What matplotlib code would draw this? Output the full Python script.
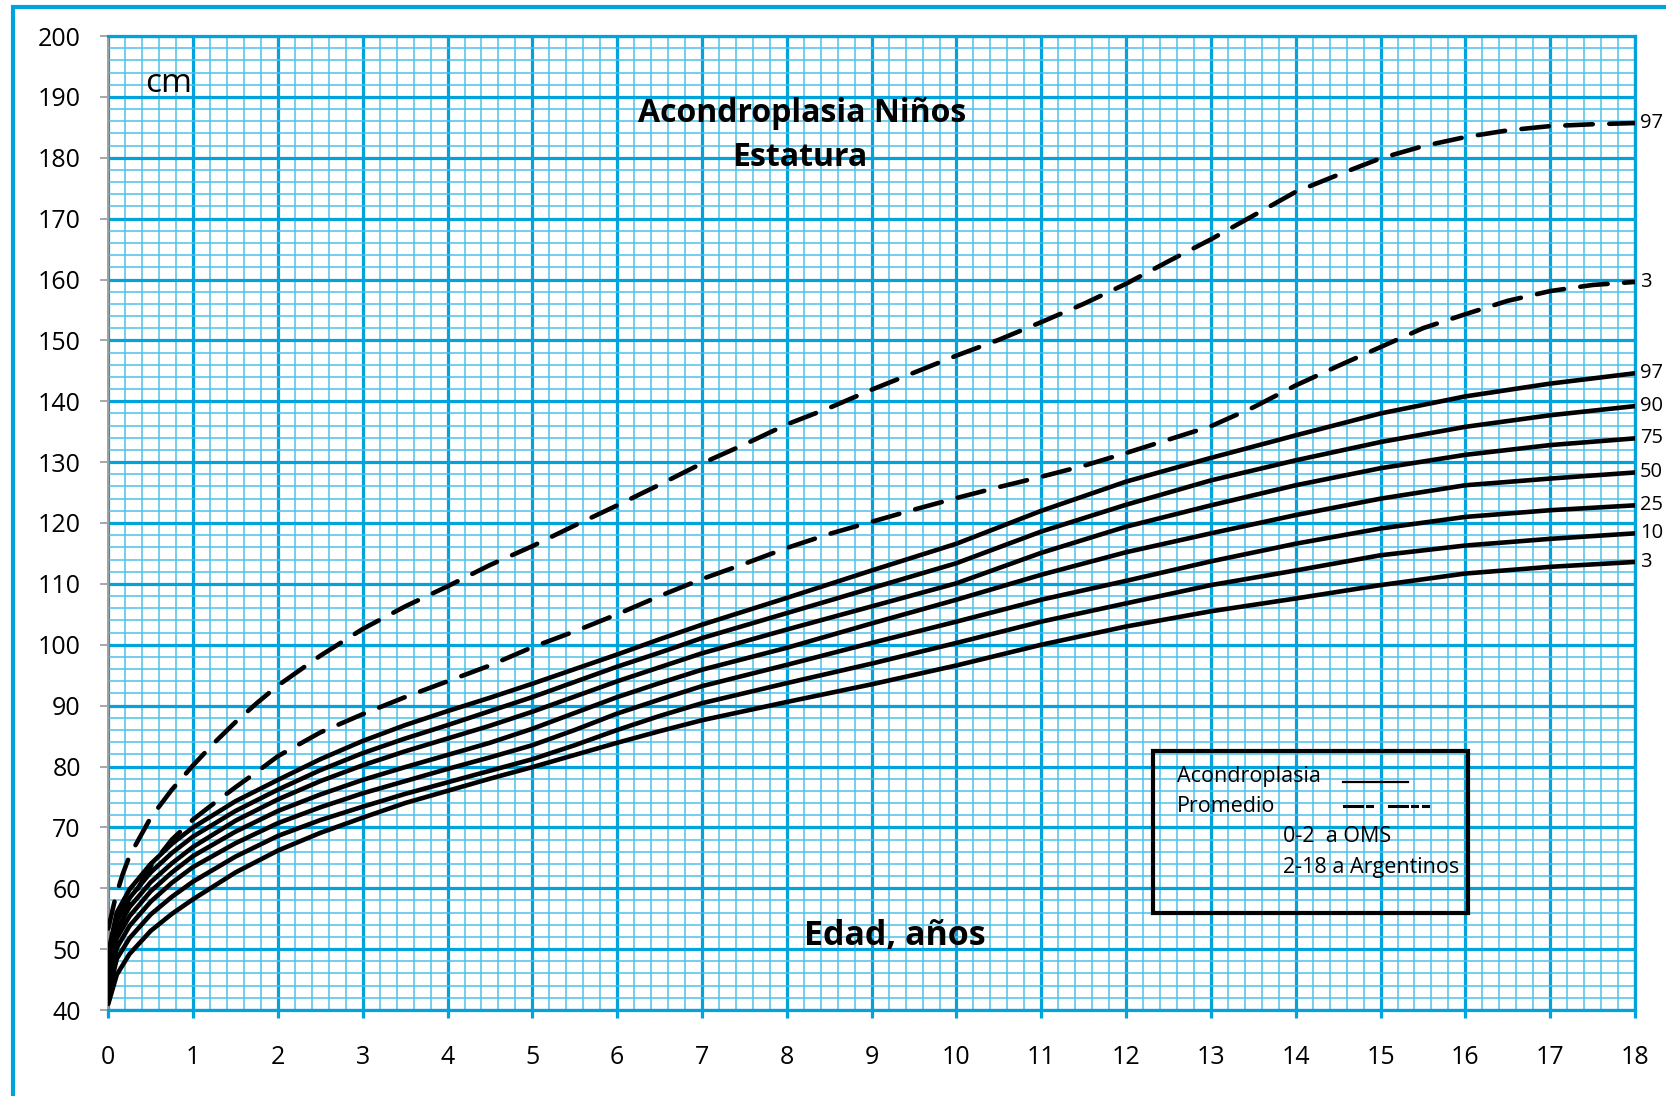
import matplotlib
matplotlib.use("Agg")
import matplotlib.pyplot as plt
from matplotlib.ticker import MultipleLocator
from matplotlib.lines import Line2D
from matplotlib.patches import Rectangle

# ---------------- data ----------------
# Achondroplasia boys, height percentiles (solid curves)
AGES_ACH = [0, 0.1, 0.25, 0.5, 0.75, 1, 1.5, 2, 2.5, 3, 3.5, 4, 4.5, 5, 5.5, 6, 6.5,
            7, 8, 9, 10, 11, 12, 13, 14, 15, 16, 17, 18]
ACH_P3 = [41.0, 45.8, 49.2, 53.0, 55.8, 58.2, 62.6, 66.2, 69.1, 71.6, 74.0, 76.0, 78.0,
          79.9, 81.9, 83.9, 85.8, 87.6, 90.6, 93.5, 96.6, 100.0, 103.0, 105.5, 107.6,
          109.8, 111.7, 112.8, 113.6]
ACH_P10 = [42.5, 48.4, 51.8, 55.7, 58.6, 61.1, 65.2, 68.6, 71.2, 73.4, 75.5, 77.4, 79.3,
           81.2, 83.5, 86.0, 88.3, 90.4, 93.7, 96.9, 100.3, 103.8, 106.8, 109.8, 112.2,
           114.7, 116.3, 117.4, 118.3]
ACH_P25 = [44.0, 50.2, 53.8, 57.8, 60.9, 63.5, 67.4, 70.7, 73.3, 75.6, 77.6, 79.6, 81.5,
           83.5, 86.0, 88.7, 91.0, 93.2, 96.7, 100.3, 103.8, 107.4, 110.5, 113.7, 116.6,
           119.1, 121.0, 122.1, 122.9]
ACH_P50 = [45.5, 51.8, 55.4, 59.5, 62.6, 65.3, 69.3, 72.7, 75.4, 77.8, 79.9, 81.9, 83.9,
           86.2, 88.8, 91.4, 93.7, 95.9, 99.5, 103.5, 107.4, 111.5, 115.2, 118.3, 121.3,
           124.0, 126.2, 127.3, 128.3]
ACH_P75 = [47.0, 53.3, 56.9, 61.0, 64.1, 66.8, 71.1, 74.6, 77.6, 80.2, 82.5, 84.6, 86.7,
           89.0, 91.5, 94.0, 96.3, 98.6, 102.5, 106.3, 110.1, 115.1, 119.4, 122.9, 126.2,
           129.0, 131.2, 132.8, 133.9]
ACH_P90 = [48.3, 54.7, 58.4, 62.6, 65.8, 68.5, 72.7, 76.2, 79.4, 82.2, 84.6, 86.8, 89.1,
           91.4, 93.9, 96.4, 98.7, 101.1, 105.2, 109.3, 113.4, 118.6, 123.0, 127.0, 130.3,
           133.3, 135.8, 137.7, 139.2]
ACH_P97 = [49.5, 56.0, 59.8, 64.0, 67.3, 70.0, 74.3, 77.8, 81.2, 84.2, 86.8, 89.1, 91.3,
           93.6, 96.0, 98.4, 100.9, 103.3, 107.7, 112.2, 116.6, 122.0, 126.8, 130.7, 134.4,
           138.0, 140.8, 142.9, 144.6]
ACH_LABELS = ["3", "10", "25", "50", "75", "90", "97"]

# Average population (dashed): 0-2 WHO, 2-18 Argentine references
AGES_REF = [0, 0.083, 0.167, 0.25, 0.5, 0.75, 1, 1.25, 1.5, 1.75, 2, 2.5, 3, 3.5, 4,
            4.5, 5, 5.5, 6, 6.5, 7, 7.5, 8, 8.5, 9, 9.5, 10, 10.5, 11, 11.5, 12,
            12.5, 13, 13.5, 14, 14.5, 15, 15.5, 16, 16.5, 17, 17.5, 18]
REF_P3 = [46.3, 51.1, 54.7, 57.6, 63.6, 68.0, 71.3, 74.0, 76.6, 79.1, 81.7, 85.6, 88.6,
          91.4, 94.0, 96.6, 99.6, 102.2, 105.0, 108.0, 110.8, 113.3, 115.9, 118.2, 120.2,
          122.2, 124.1, 125.9, 127.6, 129.4, 131.5, 133.7, 135.9, 139.0, 142.6, 145.8,
          148.9, 152.0, 154.3, 156.5, 158.1, 159.1, 159.6]
REF_P97 = [53.4, 58.4, 62.2, 65.3, 71.6, 76.2, 80.2, 83.9, 87.3, 90.4, 93.3, 98.2, 102.6,
           106.3, 109.6, 113.1, 116.2, 119.6, 122.9, 126.3, 129.8, 132.9, 136.2, 138.9,
           141.9, 144.7, 147.5, 150.1, 153.0, 156.0, 159.3, 163.0, 166.6, 170.5, 174.4,
           177.2, 179.9, 181.9, 183.4, 184.5, 185.2, 185.5, 185.7]
REF_LABELS = ["3", "97"]

X_TICKS = list(range(0, 19))
Y_TICKS = list(range(40, 201, 10))

TITLE_1 = "Acondroplasia Niños"
TITLE_2 = "Estatura"
X_TITLE = "Edad, años"
Y_TITLE = "cm"
LEG_LINES = ["Acondroplasia", "Promedio"]
LEG_NOTES = ["0-2  a OMS", "2-18 a Argentinos"]

# ---------------- style ----------------
W, H = 1666, 1096
MAJOR = "#00A3DB"
MINOR = "#4EC1EA"
plt.rcParams["font.family"] = ["Open Sans", "DejaVu Sans"]


def fx(x):
    return x / W


def fy(y):
    return 1 - y / H


fig = plt.figure(figsize=(W / 100, H / 100), dpi=100)
ax = fig.add_axes([fx(108.3), fy(1010), fx(1635) - fx(108.3), fy(36) - fy(1010)])
ax.set_xlim(0, 18)
ax.set_ylim(40, 200)
ax.set_xticks(X_TICKS)
ax.set_yticks(Y_TICKS)
ax.xaxis.set_minor_locator(MultipleLocator(0.2))
ax.yaxis.set_minor_locator(MultipleLocator(2))
ax.grid(which="minor", color=MINOR, lw=1.1)
ax.grid(which="major", color=MAJOR, lw=2.3)
ax.set_axisbelow(True)

for s in ["top", "right", "bottom"]:
    ax.spines[s].set_color(MAJOR)
    ax.spines[s].set_linewidth(2.3)
ax.spines["left"].set_color("#A0A0A0")
ax.spines["left"].set_linewidth(1.4)

ax.tick_params(axis="y", which="major", direction="out", length=5.8, width=1.3,
               color="#A0A0A0", pad=14, labelsize=18, labelcolor="black")
ax.tick_params(axis="x", which="major", direction="out", length=6, width=2.3,
               color=MAJOR, pad=19, labelsize=18, labelcolor="black")
ax.tick_params(which="minor", length=0)

# solid achondroplasia curves
ach = [ACH_P3, ACH_P10, ACH_P25, ACH_P50, ACH_P75, ACH_P90, ACH_P97]
for vals, lab in zip(ach, ACH_LABELS):
    ax.plot(AGES_ACH, vals, color="black", lw=3.3, solid_capstyle="round",
            solid_joinstyle="round", zorder=3)
    ax.annotate(lab, xy=(AGES_ACH[-1], vals[-1]), xytext=(3.5, 0),
                textcoords="offset points", ha="left", va="center",
                fontsize=14.5, annotation_clip=False, zorder=6)

# dashed reference curves
for vals, lab in zip([REF_P3, REF_P97], REF_LABELS):
    ax.plot(AGES_REF, vals, color="black", lw=3.3, dashes=(6, 3.6),
            dash_capstyle="round", zorder=3)
    ax.annotate(lab, xy=(AGES_REF[-1], vals[-1]), xytext=(3.5, 0),
                textcoords="offset points", ha="left", va="center",
                fontsize=14.5, annotation_clip=False, zorder=6)

# texts
fig.text(fx(801.7), fy(121.7), TITLE_1, ha="center", va="baseline",
         fontsize=23, fontweight="bold")
fig.text(fx(800), fy(166.5), TITLE_2, ha="center", va="baseline",
         fontsize=23, fontweight="bold")
fig.text(fx(895), fy(945), X_TITLE, ha="center", va="baseline",
         fontsize=24.5, fontweight="bold")
fig.text(fx(145), fy(91.5), Y_TITLE, ha="left", va="baseline", fontsize=24)

# legend box
fig.patches.append(Rectangle((fx(1153.3), fy(912.7)), fx(1468.3) - fx(1153.3),
                             fy(750.7) - fy(912.7), transform=fig.transFigure,
                             fill=False, edgecolor="black", lw=3.0, zorder=5))
fig.text(fx(1176.7), fy(781.7), LEG_LINES[0], ha="left", va="baseline", fontsize=15.5)
fig.text(fx(1176.7), fy(811.7), LEG_LINES[1], ha="left", va="baseline", fontsize=15.5)
fig.text(fx(1283.3), fy(841.7), LEG_NOTES[0], ha="left", va="baseline", fontsize=15.5)
fig.text(fx(1283.3), fy(873.3), LEG_NOTES[1], ha="left", va="baseline", fontsize=15.5)
fig.lines.append(Line2D([fx(1343.3), fx(1408.3)], [fy(781.7), fy(781.7)],
                        transform=fig.transFigure, color="black", lw=1.6))
for a, b in [(1344, 1362), (1367, 1372), (1389, 1407), (1412, 1417), (1423, 1428)]:
    fig.lines.append(Line2D([fx(a), fx(b)], [fy(806), fy(806)],
                            transform=fig.transFigure, color="black", lw=2.2))

# outer frame (only left and top edges fall inside the image)
fig.patches.append(Rectangle((fx(13), fy(1110)), fx(1700) - fx(13), fy(7) - fy(1110),
                             transform=fig.transFigure, fill=False,
                             edgecolor=MAJOR, lw=3.0, clip_on=False))

fig.savefig("out.png", dpi=100)
